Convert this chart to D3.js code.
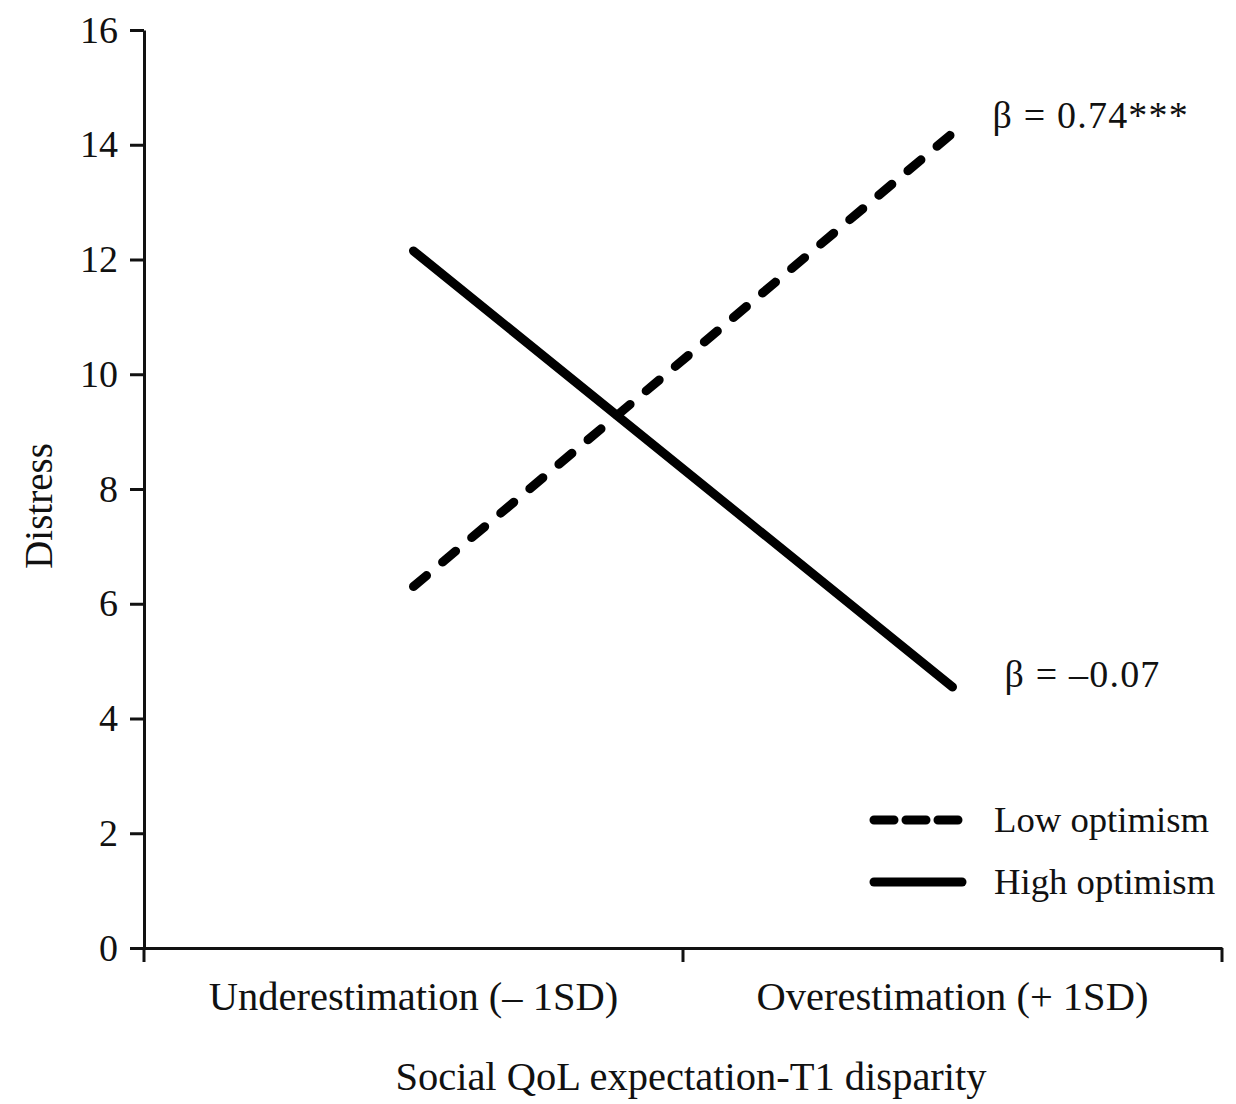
<!DOCTYPE html>
<html>
  <head>
    <meta charset="utf-8">
    <title>Distress by disparity</title>
    <script src="https://cdn.jsdelivr.net/npm/d3@7"></script>
    <style>
      body
      {
        background: white;
        margin: 0px;
        padding: 0px;
        font-family: "Liberation Serif", "Times New Roman", serif;
      }

      .axis path, .axis line
      {
        stroke: #111;
        stroke-width: 3px;
      }

      .axis text
      {
        font-family: "Liberation Serif", serif;
        font-size: 38px;
        fill: #111;
      }

      .xaxis text
      {
        font-size: 40.5px;
      }

      .lbl
      {
        font-family: "Liberation Serif", serif;
        fill: #111;
      }

      .beta
      {
        letter-spacing: 1.2px;
      }
    </style>
  </head>
  <body>
    <svg id="chart"></svg>

    <script>

      //--- Data
      var categories = ["Underestimation (\u2013 1SD)", "Overestimation (+ 1SD)"];
      var lowOptimism = [6.3, 14.2];
      var highOptimism = [12.15, 4.55];
      var yTicks = [0, 2, 4, 6, 8, 10, 12, 14, 16];
      var seriesNames = ["Low optimism", "High optimism"];
      var betaLabels = ["\u03b2 = 0.74***", "\u03b2 = \u20130.07"];

      var width = 1236;
      var height = 1104;
      var margin = { top: 30, left: 144, right: 14, bottom: 156 };

      var svg = d3.select("#chart")
          .attr("width", width)
          .attr("height", height);

      var x = d3.scaleBand()
          .domain(categories)
          .range([margin.left, width - margin.right])
          .padding(0);

      var y = d3.scaleLinear()
          .domain([0, 16])
          .range([height - margin.bottom, margin.top]);

      //--- Axes
      svg.append("g")
          .attr("class", "axis")
          .attr("transform", "translate(" + margin.left + ",0)")
          .call(d3.axisLeft(y).tickValues(yTicks).tickSize(14).tickPadding(12).tickSizeOuter(0));

      var xAxis = svg.append("g")
          .attr("class", "axis xaxis")
          .attr("transform", "translate(0," + y(0) + ")")
          .call(d3.axisBottom(x).tickSize(0).tickPadding(33).tickSizeOuter(0));

      //--- Band edge ticks
      var edges = [margin.left, margin.left + x.bandwidth(), margin.left + 2 * x.bandwidth()];
      xAxis.selectAll(".edge")
          .data(edges)
          .enter()
          .append("line")
            .attr("x1", d => d).attr("x2", d => d)
            .attr("y1", 0).attr("y2", 14);

      //--- Axis titles
      svg.append("text")
          .attr("class", "lbl")
          .attr("transform", "translate(52," + (y(8) + 17) + ") rotate(-90)")
          .attr("text-anchor", "middle")
          .attr("font-size", "39px")
          .text("Distress");

      svg.append("text")
          .attr("class", "lbl")
          .attr("x", 691)
          .attr("y", 1090)
          .attr("text-anchor", "middle")
          .attr("font-size", "40.5px")
          .text("Social QoL expectation-T1 disparity");

      //--- Lines
      var line = d3.line()
          .x((d, i) => x(categories[i]) + x.bandwidth() / 2)
          .y(d => y(d));

      svg.append("path")
          .datum(lowOptimism)
          .attr("d", line)
          .attr("fill", "none")
          .attr("stroke", "#000")
          .attr("stroke-width", 9)
          .attr("stroke-linecap", "round")
          .attr("stroke-dasharray", "17 21");

      svg.append("path")
          .datum(highOptimism)
          .attr("d", line)
          .attr("fill", "none")
          .attr("stroke", "#000")
          .attr("stroke-width", 9)
          .attr("stroke-linecap", "round");

      //--- Beta labels
      var endX = x(categories[1]) + x.bandwidth() / 2;
      svg.append("text")
          .attr("class", "lbl beta")
          .attr("x", endX + 40)
          .attr("y", y(lowOptimism[1]) - 5)
          .attr("font-size", "38px")
          .text(betaLabels[0]);

      svg.append("text")
          .attr("class", "lbl beta")
          .attr("x", endX + 52)
          .attr("y", y(highOptimism[1]))
          .attr("font-size", "38px")
          .text(betaLabels[1]);

      //--- Legend
      var legend = svg.append("g")
          .attr("transform", "translate(874,820)");

      legend.selectAll("line")
          .data(seriesNames)
          .enter()
          .append("line")
            .attr("x1", 0).attr("x2", 88)
            .attr("y1", (d, i) => i * 62).attr("y2", (d, i) => i * 62)
            .attr("stroke", "#000")
            .attr("stroke-width", 9)
            .attr("stroke-linecap", "round")
            .attr("stroke-dasharray", (d, i) => i == 0 ? "20 12" : null);

      legend.selectAll("text")
          .data(seriesNames)
          .enter()
          .append("text")
            .attr("class", "lbl")
            .attr("x", 120)
            .attr("y", (d, i) => i * 62 + 12)
            .attr("font-size", "36.7px")
            .text(d => d);

    </script>
  </body>
</html>
